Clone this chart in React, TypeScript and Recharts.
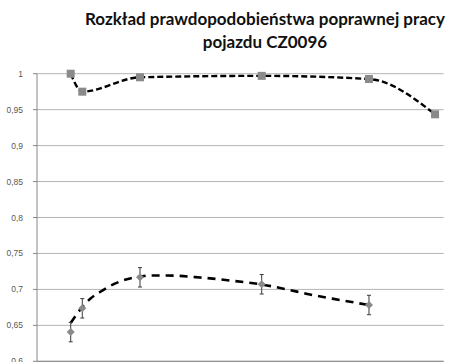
import React from 'react';
import { ComposedChart, Line, XAxis, YAxis, CartesianGrid, ErrorBar } from 'recharts';

// Operating time positions of the measurements (axis units)
const xValues = [0.663, 0.891, 2.026, 4.42, 6.53, 7.83];

// Upper series: probability of correct operation
const upperSeries = [1.0, 0.975, 0.995, 0.997, 0.9926, 0.9435];

// Lower series with its symmetric error
const lowerSeries = [0.6406, 0.6737, 0.7168, 0.7071, 0.6783];
const lowerError = [0.0135, 0.0135, 0.0135, 0.0135, 0.0135];

// Trend curve fitted to the lower series
const trendX = [0.663, 0.747, 0.891, 1.042, 1.239, 1.436, 1.633, 1.829, 2.026, 2.223, 2.557, 3.206, 3.796, 4.426, 4.878, 5.37, 5.96, 6.53];
const trendY = [0.6533, 0.662, 0.6755, 0.6866, 0.6964, 0.7047, 0.711, 0.7152, 0.7177, 0.7193, 0.7193, 0.7166, 0.7124, 0.7068, 0.7006, 0.6929, 0.6853, 0.6783];

const yTicks = [0.6, 0.65, 0.7, 0.75, 0.8, 0.85, 0.9, 0.95, 1];
const xTicks = [0, 1, 2, 3, 4, 5, 6, 7, 8];

const titleLines = ['Rozkład prawdopodobieństwa poprawnej pracy', 'pojazdu CZ0096'];

const upperData = xValues.map((x, i) => ({ x, p: upperSeries[i] }));
const lowerData = lowerSeries.map((p, i) => ({ x: xValues[i], p, err: lowerError[i] }));
const trendData = trendX.map((x, i) => ({ x, p: trendY[i] }));

const SquareDot = (props: any) => {
  const { cx, cy, index } = props;
  if (cx == null || cy == null) return <g key={`s-${index}`} />;
  return <rect key={`s-${index}`} x={cx - 4} y={cy - 4} width={8} height={8} fill="#8a8a8a" />;
};

const DiamondDot = (props: any) => {
  const { cx, cy, index } = props;
  if (cx == null || cy == null) return <g key={`d-${index}`} />;
  const r = 4;
  return (
    <polygon
      key={`d-${index}`}
      points={`${cx},${cy - r} ${cx + r},${cy} ${cx},${cy + r} ${cx - r},${cy}`}
      fill="#8a8a8a"
    />
  );
};

const fmt = (v: number) => String(v).replace('.', ',');

export default function App() {
  return (
    <div style={{ position: 'absolute', left: 0, top: 0, width: 449, height: 362, overflow: 'hidden', background: '#fff' }}>
      <ComposedChart
        width={449}
        height={400}
        margin={{ top: 73.7, right: 5.3, left: 0, bottom: 18.7 }}
      >
        <CartesianGrid vertical={false} stroke="#b4b4b4" strokeWidth={1} />
        <XAxis
          dataKey="x"
          type="number"
          domain={[0, 8]}
          ticks={xTicks}
          tick={false}
          height={20}
          axisLine={{ stroke: '#868686' }}
          tickLine={{ stroke: '#868686' }}
          tickSize={4}
          allowDuplicatedCategory={false}
        />
        <YAxis
          type="number"
          domain={[0.6, 1]}
          ticks={yTicks}
          width={37}
          tickFormatter={fmt}
          axisLine={{ stroke: '#868686' }}
          tickLine={{ stroke: '#868686' }}
          tickSize={4}
          tickMargin={10}
          tick={{ fill: '#595959', fontSize: 8.5, fontFamily: 'Liberation Sans, Arial, sans-serif' }}
        />
        <Line
          data={trendData}
          dataKey="p"
          type="monotone"
          stroke="#000"
          strokeWidth={2.6}
          strokeDasharray="8 6"
          dot={false}
          activeDot={false}
          isAnimationActive={false}
        />
        <Line
          data={lowerData}
          dataKey="p"
          type="linear"
          stroke="none"
          dot={DiamondDot}
          activeDot={false}
          isAnimationActive={false}
        >
          <ErrorBar dataKey="err" direction="y" width={2} stroke="#3a3a3a" strokeWidth={1} isAnimationActive={false} />
        </Line>
        <Line
          data={upperData}
          dataKey="p"
          type="monotone"
          stroke="#000"
          strokeWidth={2.4}
          strokeDasharray="6 3"
          dot={SquareDot}
          activeDot={false}
          isAnimationActive={false}
        />
      </ComposedChart>
      <svg width={449} height={60} style={{ position: 'absolute', left: 0, top: 0 }}>
        {titleLines.map((t, i) => (
          <text
            key={i}
            x={265}
            y={25 + i * 23.3}
            textAnchor="middle"
            fontFamily="Lato, 'Open Sans', sans-serif"
            fontWeight="bold"
            fontSize={17}
            fill="#111"
          >
            {t}
          </text>
        ))}
      </svg>
    </div>
  );
}
